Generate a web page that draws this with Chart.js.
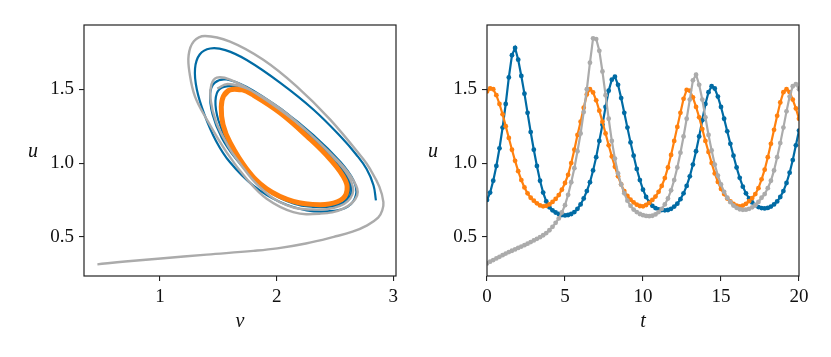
<!DOCTYPE html>
<html>
<head>
<meta charset="utf-8">
<script src="https://cdn.jsdelivr.net/npm/chart.js@4.4.1/dist/chart.umd.min.js"></script>
<style>
  html, body { margin: 0; padding: 0; background: #fff; }
  #wrap { position: relative; width: 831px; height: 357px; overflow: hidden; }
  canvas { position: absolute; top: 0; }
  #phase { left: 0; }
  #series { left: 415px; }
</style>
</head>
<body>
<div id="wrap">
  <canvas id="phase" width="415" height="357"></canvas>
  <canvas id="series" width="416" height="357"></canvas>
</div>
<script>
// ---- right panel: u(t) sampled every 0.2 ----
const tValues = [
  0, 0.2, 0.4, 0.6, 0.8, 1, 1.2, 1.4, 1.6, 1.8,
  2, 2.2, 2.4, 2.6, 2.8, 3, 3.2, 3.4, 3.6, 3.8,
  4, 4.2, 4.4, 4.6, 4.8, 5, 5.2, 5.4, 5.6, 5.8,
  6, 6.2, 6.4, 6.6, 6.8, 7, 7.2, 7.4, 7.6, 7.8,
  8, 8.2, 8.4, 8.6, 8.8, 9, 9.2, 9.4, 9.6, 9.8,
  10, 10.2, 10.4, 10.6, 10.8, 11, 11.2, 11.4, 11.6, 11.8,
  12, 12.2, 12.4, 12.6, 12.8, 13, 13.2, 13.4, 13.6, 13.8,
  14, 14.2, 14.4, 14.6, 14.8, 15, 15.2, 15.4, 15.6, 15.8,
  16, 16.2, 16.4, 16.6, 16.8, 17, 17.2, 17.4, 17.6, 17.8,
  18, 18.2, 18.4, 18.6, 18.8, 19, 19.2, 19.4, 19.6, 19.8,
  20,
];

const blueU = [
  0.75, 0.80, 0.88, 0.98, 1.10, 1.24, 1.40, 1.58, 1.73, 1.78,
  1.70, 1.59, 1.47, 1.34, 1.21, 1.09, 0.98, 0.88, 0.80, 0.74,
  0.70, 0.68, 0.665, 0.655, 0.648, 0.645, 0.648, 0.655, 0.668, 0.69,
  0.72, 0.76, 0.81, 0.87, 0.95, 1.04, 1.15, 1.26, 1.38, 1.49,
  1.565, 1.585, 1.53, 1.44, 1.34, 1.24, 1.14, 1.05, 0.96, 0.885,
  0.82, 0.77, 0.735, 0.71, 0.695, 0.686, 0.682, 0.68, 0.682, 0.69,
  0.705, 0.725, 0.755, 0.795, 0.845, 0.91, 0.99, 1.08, 1.18, 1.29,
  1.40, 1.48, 1.52, 1.505, 1.45, 1.38, 1.30, 1.215, 1.13, 1.05,
  0.97, 0.90, 0.84, 0.795, 0.76, 0.733, 0.715, 0.702, 0.695, 0.693,
  0.696, 0.705, 0.72, 0.74, 0.77, 0.81, 0.865, 0.935, 1.02, 1.12,
  1.22,
];

const orangeU = [
  1.485, 1.505, 1.50, 1.46, 1.40, 1.33, 1.25, 1.17, 1.09, 1.015,
  0.945, 0.885, 0.835, 0.795, 0.765, 0.745, 0.727, 0.713, 0.707, 0.71,
  0.72, 0.737, 0.757, 0.783, 0.82, 0.865, 0.92, 1.00, 1.09, 1.19,
  1.28, 1.375, 1.465, 1.50, 1.478, 1.425, 1.355, 1.28, 1.20, 1.12,
  1.045, 0.975, 0.91, 0.855, 0.81, 0.777, 0.752, 0.733, 0.718, 0.709,
  0.707, 0.716, 0.73, 0.75, 0.773, 0.805, 0.845, 0.898, 0.97, 1.055,
  1.15, 1.245, 1.34, 1.435, 1.495, 1.49, 1.445, 1.38, 1.31, 1.23,
  1.15, 1.075, 1.00, 0.93, 0.872, 0.825, 0.79, 0.76, 0.74, 0.723,
  0.712, 0.707, 0.712, 0.724, 0.742, 0.763, 0.79, 0.83, 0.89, 0.955,
  1.04, 1.13, 1.225, 1.32, 1.41, 1.48, 1.50, 1.48, 1.43, 1.37,
  1.30,
];

const grayU = [
  0.32, 0.332, 0.343, 0.354, 0.365, 0.376, 0.387, 0.397, 0.406, 0.415,
  0.425, 0.434, 0.444, 0.454, 0.465, 0.476, 0.487, 0.498, 0.511, 0.526,
  0.545, 0.568, 0.595, 0.625, 0.665, 0.715, 0.785, 0.87, 0.965, 1.08,
  1.20, 1.345, 1.50, 1.68, 1.845, 1.84, 1.76, 1.62, 1.46, 1.30,
  1.15, 1.03, 0.93, 0.855, 0.795, 0.745, 0.71, 0.685, 0.668, 0.655,
  0.647, 0.642, 0.64, 0.643, 0.652, 0.668, 0.69, 0.72, 0.76, 0.815,
  0.885, 0.97, 1.07, 1.18, 1.30, 1.43, 1.56, 1.598, 1.53, 1.43,
  1.31, 1.19, 1.085, 0.99, 0.915, 0.855, 0.805, 0.765, 0.735, 0.712,
  0.697, 0.687, 0.683, 0.684, 0.69, 0.70, 0.715, 0.737, 0.765, 0.79,
  0.83, 0.88, 0.95, 1.04, 1.135, 1.24, 1.35, 1.45, 1.52, 1.535,
  1.50,
];

// ---- left panel: phase portrait (v, u) ----
const bluePhaseV = [
  2.851, 2.830, 2.771, 2.680, 2.560, 2.314, 2.028, 1.743, 1.560, 1.430,
  1.340, 1.300, 1.315, 1.380, 1.480, 1.600, 1.800, 2.028, 2.257, 2.457,
  2.610, 2.680, 2.660, 2.543, 2.314, 2.028, 1.743, 1.570, 1.470, 1.430,
  1.450, 1.530, 1.650, 1.800, 1.971, 2.200, 2.430, 2.590, 2.640, 2.615,
  2.500, 2.290, 2.040, 1.800, 1.620, 1.510, 1.475, 1.500, 1.580, 1.720,
  1.900, 2.150, 2.400, 2.570, 2.620, 2.600, 2.480, 2.300, 2.180,
];
const bluePhaseU = [
  0.747, 0.850, 0.960, 1.060, 1.170, 1.363, 1.545, 1.698, 1.765, 1.776,
  1.735, 1.640, 1.500, 1.330, 1.150, 1.005, 0.847, 0.736, 0.680, 0.674,
  0.705, 0.785, 0.880, 1.010, 1.190, 1.370, 1.515, 1.566, 1.545, 1.470,
  1.330, 1.170, 1.030, 0.900, 0.800, 0.720, 0.703, 0.735, 0.800, 0.895,
  1.025, 1.195, 1.365, 1.480, 1.520, 1.500, 1.420, 1.290, 1.140, 0.970,
  0.825, 0.725, 0.705, 0.735, 0.800, 0.890, 1.020, 1.170, 1.250,
];

const orangePhaseV = [
  1.700, 1.600, 1.545, 1.525, 1.540, 1.600, 1.743, 1.914, 2.143, 2.371,
  2.520, 2.595, 2.590, 2.457, 2.257, 2.028, 1.800, 1.700, 1.600, 1.545,
];
const orangePhaseU = [
  1.497, 1.495, 1.455, 1.380, 1.260, 1.139, 0.960, 0.825, 0.740, 0.718,
  0.738, 0.790, 0.880, 1.027, 1.184, 1.341, 1.460, 1.497, 1.495, 1.455,
];

const grayPhaseV = [
  0.463, 0.700, 1.006, 1.400, 1.800, 2.005, 2.250, 2.490, 2.650, 2.776,
  2.870, 2.905, 2.915, 2.880, 2.800, 2.742, 2.457, 2.171, 1.885, 1.600,
  1.386, 1.290, 1.245, 1.255, 1.300, 1.400, 1.571, 1.743, 1.914, 2.142,
  2.371, 2.571, 2.690, 2.660, 2.520, 2.171, 1.828, 1.600, 1.486, 1.440,
  1.432, 1.480, 1.580, 1.657, 1.857, 2.085, 2.314, 2.543, 2.650, 2.630,
  2.510, 2.290, 2.020, 1.760, 1.580, 1.490,
];
const grayPhaseU = [
  0.314, 0.333, 0.354, 0.380, 0.405, 0.422, 0.455, 0.500, 0.535, 0.578,
  0.630, 0.680, 0.735, 0.840, 0.960, 1.027, 1.296, 1.520, 1.700, 1.823,
  1.861, 1.825, 1.730, 1.600, 1.450, 1.296, 1.072, 0.892, 0.758, 0.668,
  0.657, 0.691, 0.780, 0.880, 1.020, 1.275, 1.470, 1.565, 1.578, 1.531,
  1.435, 1.280, 1.120, 1.027, 0.835, 0.715, 0.685, 0.710, 0.790, 0.890,
  1.020, 1.195, 1.375, 1.500, 1.535, 1.505,
];

// axis limits and ticks
const uLimits = [0.235, 1.935];
const uTicks = [0.5, 1.0, 1.5];
const vLimits = [0.348, 3.023];
const vTicks = [1, 2, 3];
const tLimits = [0, 20];
const tTicks = [0, 5, 10, 15, 20];

const BLUE = "#006BA4";
const ORANGE = "#FF800E";
const GRAY = "#ABABAB";
const FONT = "'Liberation Serif', 'Times New Roman', serif";

const toXY = (xs, ys) => xs.map((x, i) => ({ x: x, y: ys[i] }));

// frame on all four sides plus the axis labels
const framePlugin = {
  id: "frame",
  afterDraw(chart, args, opts) {
    const { ctx, chartArea: a } = chart;
    ctx.save();
    ctx.strokeStyle = "#222";
    ctx.lineWidth = 1.2;
    ctx.strokeRect(a.left, a.top, a.right - a.left, a.bottom - a.top);
    ctx.font = "italic 20px " + FONT;
    ctx.fillStyle = "#111";
    ctx.textAlign = "center";
    ctx.textBaseline = "middle";
    ctx.fillText(opts.xLabel, (a.left + a.right) / 2, opts.xLabelY);
    ctx.fillText(opts.yLabel, opts.yLabelX, (a.top + a.bottom) / 2 + 1);
    ctx.restore();
  },
};

function axis(limits, ticks, fmt, size) {
  return {
    type: "linear",
    min: limits[0],
    max: limits[1],
    afterBuildTicks: (s) => {
      s.ticks = ticks.map((v) => ({ value: v }));
    },
    afterFit: size,
    ticks: {
      callback: fmt,
      color: "#111",
      font: { family: FONT, size: 19 },
      padding: 5,
      maxRotation: 0,
      autoSkip: false,
    },
    grid: {
      drawOnChartArea: false,
      drawTicks: true,
      tickLength: 5,
      color: "#222",
      lineWidth: 1.1,
    },
    border: { display: false },
  };
}

function baseOptions(xScale, yScale, padRight, labels) {
  return {
    responsive: false,
    animation: false,
    devicePixelRatio: 1,
    events: [],
    layout: { padding: { left: 0, right: padRight, top: 25, bottom: 0 } },
    scales: { x: xScale, y: yScale },
    plugins: {
      legend: { display: false },
      tooltip: { enabled: false },
      frame: labels,
    },
  };
}

// left: phase portrait
new Chart(document.getElementById("phase"), {
  type: "scatter",
  data: {
    datasets: [
      {
        data: toXY(grayPhaseV, grayPhaseU),
        borderColor: GRAY,
        borderWidth: 2.4,
        pointRadius: 0,
        showLine: true,
        tension: 0.4,
        order: 1,
      },
      {
        data: toXY(orangePhaseV, orangePhaseU),
        borderColor: ORANGE,
        borderWidth: 5,
        pointRadius: 0,
        showLine: true,
        tension: 0.4,
        order: 2,
      },
      {
        data: toXY(bluePhaseV, bluePhaseU),
        borderColor: BLUE,
        borderWidth: 2.2,
        pointRadius: 0,
        showLine: true,
        tension: 0.4,
        order: 3,
      },
    ],
  },
  options: baseOptions(
    axis(vLimits, vTicks, (v) => String(v), (s) => { s.height = 81; }),
    axis(uLimits, uTicks, (v) => v.toFixed(1), (s) => { s.width = 84; }),
    19,
    { xLabel: "v", xLabelY: 322, yLabel: "u", yLabelX: 33 }
  ),
  plugins: [framePlugin],
});

// right: u against t, with markers
function seriesSet(ys, color, order) {
  return {
    data: toXY(tValues, ys),
    borderColor: color,
    backgroundColor: color,
    borderWidth: 2.2,
    pointRadius: 2.4,
    pointBorderWidth: 0,
    showLine: true,
    tension: 0,
    order: order,
    clip: 0,
  };
}

new Chart(document.getElementById("series"), {
  type: "scatter",
  data: {
    datasets: [
      seriesSet(grayU, GRAY, 1),
      seriesSet(orangeU, ORANGE, 2),
      seriesSet(blueU, BLUE, 3),
    ],
  },
  options: baseOptions(
    axis(tLimits, tTicks, (v) => String(v), (s) => { s.height = 81; }),
    axis(uLimits, uTicks, (v) => v.toFixed(1), (s) => { s.width = 72; }),
    32,
    { xLabel: "t", xLabelY: 322, yLabel: "u", yLabelX: 18 }
  ),
  plugins: [framePlugin],
});
</script>
</body>
</html>
